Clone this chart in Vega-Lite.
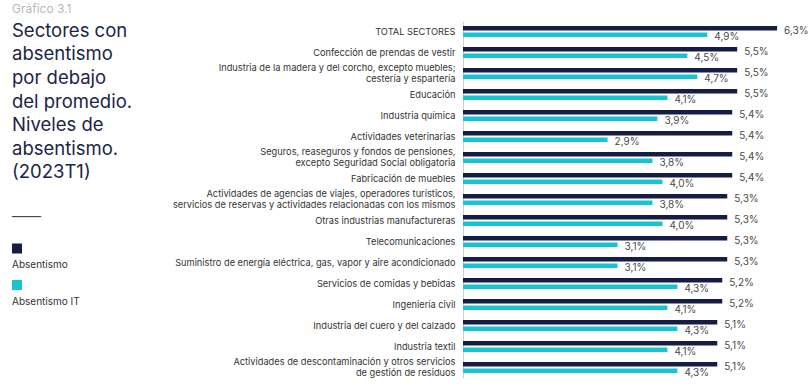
{
  "$schema": "https://vega.github.io/schema/vega-lite/v6.json",
  "autosize": {"type": "none"},
  "width": 349,
  "height": 357,
  "padding": {"left": 463, "top": 21, "right": 0, "bottom": 10},
  "background": "white",
  "title": {
    "text": "Gráfico 3.1",
    "subtitle": ["Sectores con", "absentismo", "por debajo", "del promedio.", "Niveles de", "absentismo.", "(2023T1)"],
    "orient": "top",
    "anchor": "start",
    "frame": "group",
    "dx": -451,
    "dy": 166,
    "font": "Inter",
    "fontSize": 12,
    "fontWeight": "normal",
    "color": "#b8b8b8",
    "subtitleFont": "Inter",
    "subtitleFontSize": 18.5,
    "subtitleColor": "#1b2447",
    "subtitleLineHeight": 23.6,
    "subtitlePadding": 5.5
  },
  "data": {
    "values": [
      {"sector": "TOTAL SECTORES", "serie": "Absentismo", "value": 0.063},
      {"sector": "TOTAL SECTORES", "serie": "Absentismo IT", "value": 0.049},
      {"sector": "Confección de prendas de vestir", "serie": "Absentismo", "value": 0.055},
      {"sector": "Confección de prendas de vestir", "serie": "Absentismo IT", "value": 0.045},
      {"sector": "Industria de la madera y del corcho, excepto muebles;|cestería y espartería", "serie": "Absentismo", "value": 0.055},
      {"sector": "Industria de la madera y del corcho, excepto muebles;|cestería y espartería", "serie": "Absentismo IT", "value": 0.047},
      {"sector": "Educación", "serie": "Absentismo", "value": 0.055},
      {"sector": "Educación", "serie": "Absentismo IT", "value": 0.041},
      {"sector": "Industria química", "serie": "Absentismo", "value": 0.054},
      {"sector": "Industria química", "serie": "Absentismo IT", "value": 0.039},
      {"sector": "Actividades veterinarias", "serie": "Absentismo", "value": 0.054},
      {"sector": "Actividades veterinarias", "serie": "Absentismo IT", "value": 0.029},
      {"sector": "Seguros, reaseguros y fondos de pensiones,|excepto Seguridad Social obligatoria", "serie": "Absentismo", "value": 0.054},
      {"sector": "Seguros, reaseguros y fondos de pensiones,|excepto Seguridad Social obligatoria", "serie": "Absentismo IT", "value": 0.038},
      {"sector": "Fabricación de muebles", "serie": "Absentismo", "value": 0.054},
      {"sector": "Fabricación de muebles", "serie": "Absentismo IT", "value": 0.040},
      {"sector": "Actividades de agencias de viajes, operadores turísticos,|servicios de reservas y actividades relacionadas con los mismos", "serie": "Absentismo", "value": 0.053},
      {"sector": "Actividades de agencias de viajes, operadores turísticos,|servicios de reservas y actividades relacionadas con los mismos", "serie": "Absentismo IT", "value": 0.038},
      {"sector": "Otras industrias manufactureras", "serie": "Absentismo", "value": 0.053},
      {"sector": "Otras industrias manufactureras", "serie": "Absentismo IT", "value": 0.040},
      {"sector": "Telecomunicaciones", "serie": "Absentismo", "value": 0.053},
      {"sector": "Telecomunicaciones", "serie": "Absentismo IT", "value": 0.031},
      {"sector": "Suministro de energía eléctrica, gas, vapor y aire acondicionado", "serie": "Absentismo", "value": 0.053},
      {"sector": "Suministro de energía eléctrica, gas, vapor y aire acondicionado", "serie": "Absentismo IT", "value": 0.031},
      {"sector": "Servicios de comidas y bebidas", "serie": "Absentismo", "value": 0.052},
      {"sector": "Servicios de comidas y bebidas", "serie": "Absentismo IT", "value": 0.043},
      {"sector": "Ingeniería civil", "serie": "Absentismo", "value": 0.052},
      {"sector": "Ingeniería civil", "serie": "Absentismo IT", "value": 0.041},
      {"sector": "Industria del cuero y del calzado", "serie": "Absentismo", "value": 0.051},
      {"sector": "Industria del cuero y del calzado", "serie": "Absentismo IT", "value": 0.043},
      {"sector": "Industria textil", "serie": "Absentismo", "value": 0.051},
      {"sector": "Industria textil", "serie": "Absentismo IT", "value": 0.041},
      {"sector": "Actividades de descontaminación y otros servicios|de gestión de residuos", "serie": "Absentismo", "value": 0.051},
      {"sector": "Actividades de descontaminación y otros servicios|de gestión de residuos", "serie": "Absentismo IT", "value": 0.043}
    ]
  },
  "encoding": {
    "y": {
      "field": "sector",
      "type": "nominal",
      "sort": null,
      "scale": {"paddingInner": 0, "paddingOuter": 0},
      "axis": {
        "title": null,
        "ticks": false,
        "domain": true,
        "domainColor": "#d0d0d0",
        "domainWidth": 1,
        "labelPadding": 8,
        "labelFont": "Inter",
        "labelFontSize": 9.25,
        "labelColor": "#333333",
        "labelLimit": 0,
        "labelLineHeight": 11,
        "labelOffset": {"condition": {"test": "indexof(datum.value, '|') >= 0", "value": -5.5}, "value": 0},
        "labelExpr": "split(datum.label, '|')"
      }
    },
    "yOffset": {
      "field": "serie",
      "type": "nominal",
      "sort": ["Absentismo", "Absentismo IT"],
      "scale": {"paddingInner": 0.31, "paddingOuter": 0.77}
    },
    "x": {
      "field": "value",
      "type": "quantitative",
      "scale": {"domain": [0, 0.07], "nice": false},
      "axis": null
    }
  },
  "layer": [
    {
      "mark": {"type": "bar"},
      "encoding": {
        "color": {
          "field": "serie",
          "type": "nominal",
          "sort": ["Absentismo", "Absentismo IT"],
          "scale": {"domain": ["Absentismo", "Absentismo IT"], "range": ["#161d45", "#17c4cf"]},
          "legend": {
            "orient": "none",
            "direction": "vertical",
            "columns": 1,
            "legendX": -451,
            "legendY": 190.5,
            "title": "────",
            "titleFont": "DejaVu Sans",
            "titleFontSize": 12,
            "titleFontWeight": "normal",
            "titleColor": "#333333",
            "titlePadding": 36.5,
            "symbolType": "M-1,-4.3H1V-2.3H-1Z",
            "symbolSize": 100,
            "symbolStrokeWidth": 0,
            "labelFont": "Inter",
            "labelFontSize": 10,
            "labelColor": "#333333",
            "labelOffset": -10,
            "rowPadding": 9.5
          }
        }
      }
    },
    {
      "mark": {"type": "text", "align": "left", "baseline": "middle", "dx": 7, "dy": 2.5, "font": "Inter", "fontSize": 10, "color": "#4a4a4a"},
      "encoding": {
        "text": {"field": "value", "type": "quantitative", "format": ".1%"}
      }
    }
  ],
  "config": {
    "view": {"stroke": null},
    "locale": {"number": {"decimal": ",", "thousands": ".", "grouping": [3], "currency": ["", " €"]}}
  }
}
